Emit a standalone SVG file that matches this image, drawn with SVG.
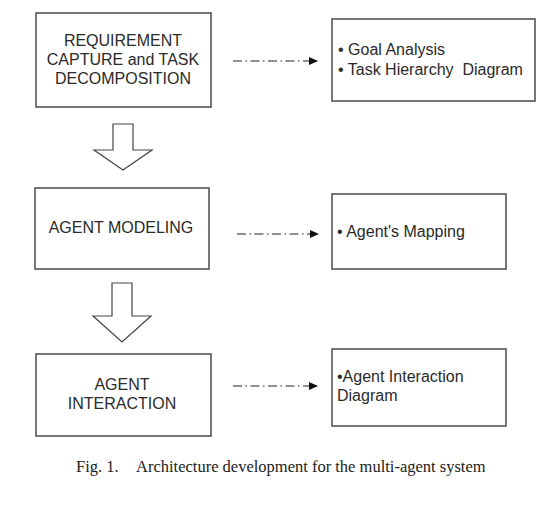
<svg xmlns="http://www.w3.org/2000/svg" width="547" height="506" viewBox="0 0 547 506">
<style>
.box{fill:#fff;stroke:#555;stroke-width:1.6}
.blk{fill:#fff;stroke:#444;stroke-width:1.2;stroke-linejoin:miter}
.t{font-family:"Liberation Sans",Arial,sans-serif;font-size:16px;fill:#2a2a2a}
.c{text-anchor:middle}
.dl{stroke:#222;stroke-width:1.2;stroke-dasharray:9 3.5 1.5 3.5;fill:none}
.cap{font-family:"Liberation Serif","Times New Roman",serif;font-size:16.5px;fill:#222}
</style>
<defs>
<marker id="ah" markerWidth="9" markerHeight="8" refX="8" refY="4" orient="auto" markerUnits="userSpaceOnUse">
<path d="M0,0 L9,4 L0,8 Z" fill="#111"/>
</marker>
</defs>
<rect width="547" height="506" fill="#fff"/>
<g id="n1">
<rect class="box" x="36" y="13" width="175" height="94"/>
<text class="t c" x="123" y="46">REQUIREMENT</text>
<text class="t c" x="123" y="65">CAPTURE and TASK</text>
<text class="t c" x="123" y="84">DECOMPOSITION</text>
</g>
<g id="n1r">
<rect class="box" x="332" y="19" width="203" height="82"/>
<text class="t" x="338" y="55">• Goal Analysis</text>
<text class="t" x="338" y="75" xml:space="preserve">• Task Hierarchy  Diagram</text>
</g>
<g id="n2">
<rect class="box" x="35" y="188" width="174" height="81"/>
<text class="t c" x="121" y="233">AGENT MODELING</text>
</g>
<g id="n2r">
<rect class="box" x="332" y="194" width="174" height="75"/>
<text class="t" x="337" y="237">• Agent's Mapping</text>
</g>
<g id="n3">
<rect class="box" x="36" y="354" width="175" height="82"/>
<text class="t c" x="122" y="390">AGENT</text>
<text class="t c" x="122" y="409">INTERACTION</text>
</g>
<g id="n3r">
<rect class="box" x="332" y="349" width="174" height="77"/>
<text class="t" x="337" y="382">•Agent Interaction</text>
<text class="t" x="337" y="401">Diagram</text>
</g>
<g id="connectors">
<path class="blk" d="M113,124 H133 V150 H152 L123,170 L94,150 H113 Z"/>
<path class="blk" d="M112,283 H132 V316 H151 L122,342 L93,316 H112 Z"/>
<line class="dl" x1="233" y1="61" x2="317" y2="61" marker-end="url(#ah)"/>
<line class="dl" x1="237" y1="234" x2="318" y2="234" marker-end="url(#ah)"/>
<line class="dl" x1="233" y1="386" x2="317" y2="386" marker-end="url(#ah)"/>
</g>
<text class="cap" x="76" y="472">Fig. 1.<tspan x="136">Architecture development for the multi-agent system</tspan></text>
</svg>
